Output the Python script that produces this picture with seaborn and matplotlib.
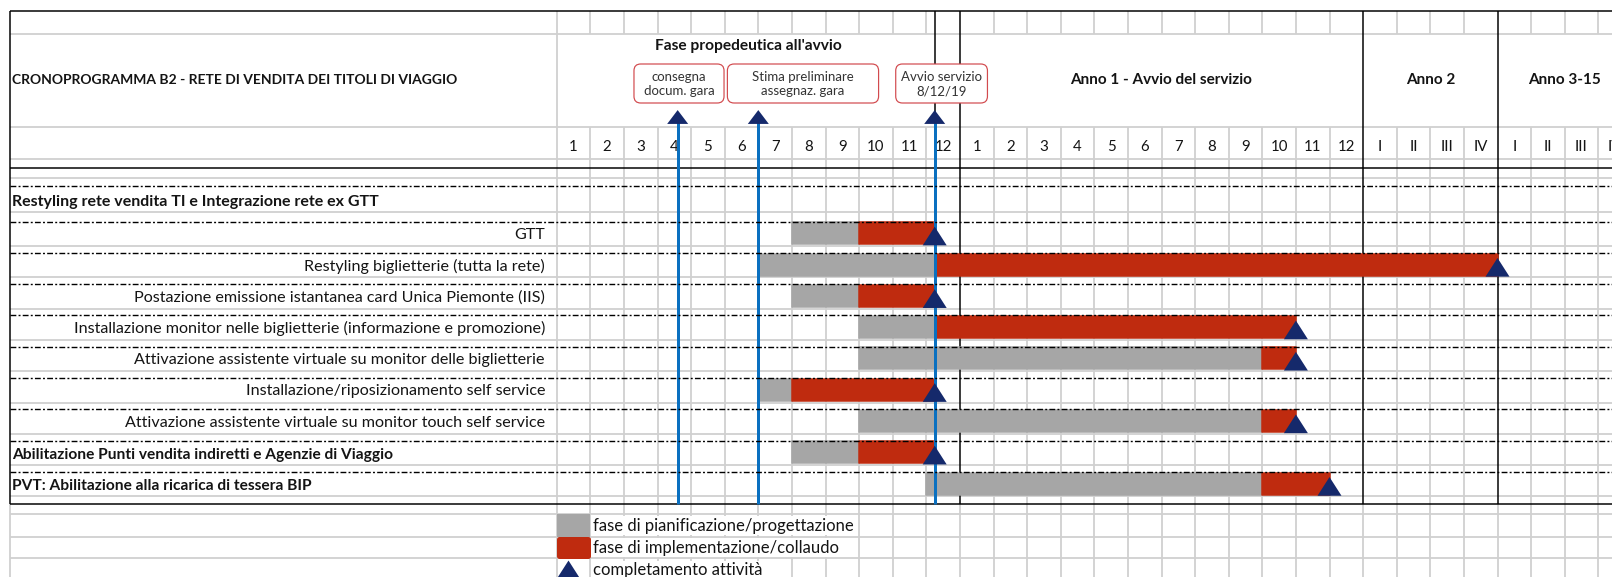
import matplotlib
matplotlib.use("Agg")
import matplotlib.pyplot as plt
from matplotlib.patches import FancyBboxPatch
from matplotlib.path import Path
import seaborn as sns

# ---------------------------------------------------------------- data
title = "CRONOPROGRAMMA B2 - RETE DI VENDITA DEI TITOLI DI VIAGGIO"
section_label = "Restyling rete vendita TI e Integrazione rete ex GTT"

tasks = [
    "GTT",
    "Restyling biglietterie (tutta la rete)",
    "Postazione emissione istantanea card Unica Piemonte (IIS)",
    "Installazione monitor nelle biglietterie (informazione e promozione)",
    "Attivazione assistente virtuale su monitor delle biglietterie",
    "Installazione/riposizionamento self service",
    "Attivazione assistente virtuale su monitor touch self service",
    "Abilitazione Punti vendita indiretti e Agenzie di Viaggio",
    "PVT: Abilitazione alla ricarica di tessera BIP",
]
task_is_heading = [False, False, False, False, False, False, False, True, True]

# timeline in month columns counted from the first column of the preparatory phase
plan_start = [7, 6, 7, 9, 9, 6, 9, 7, 11]
plan_end = [9, 11.25, 9, 11.25, 21, 7, 21, 9, 21]
impl_end = [11.25, 28, 11.25, 22, 22, 11.25, 22, 11.25, 23]

milestone_labels = ["consegna\ndocum. gara", "Stima preliminare\nassegnaz. gara",
                    "Avvio servizio\n8/12/19"]
milestone_month = [3.6, 6.0, 11.25]

period_labels = ["Fase propedeutica all'avvio", "Anno 1 - Avvio del servizio",
                 "Anno 2", "Anno 3-15"]
period_bounds = [0, 12, 24, 28, 32]

column_labels = ([str(m) for m in range(1, 13)] + [str(m) for m in range(1, 13)]
                 + ["I", "II", "III", "IV"] + ["I", "II", "III", "IV"])

legend_labels = ["fase di pianificazione/progettazione",
                 "fase di implementazione/collaudo",
                 "completamento attività"]

# ---------------------------------------------------------------- style
GREY_BAR = "#a6a6a6"
RED_BAR = "#bf2b0f"
NAVY = "#15296b"
BLUE = "#0a70c0"
GRID = "#d0d0d0"
INK = "#141414"
CALLOUT_EDGE = "#d24a4e"

sns.set_theme(style="white")
plt.rcParams["font.family"] = ["Lato", "DejaVu Sans"]
plt.rcParams["lines.scale_dashes"] = False

W, H, DPI = 1612, 577, 100
PT = 72 / DPI  # points per pixel

# x runs in month columns; column 0 starts at pixel X0
X0, COL = 556.7, 33.6


def col(px):
    return (px - X0) / COL


LEFT, RIGHT = col(10), col(W)

# y runs in pixels from the top edge of the sheet
Y_TOP, Y_HDR1, Y_HDR2, Y_HDR3 = 11, 33.5, 126.5, 159
Y_HDR_END, Y_SUB = 167.5, 178
Y_SEC, Y_SEC_GRID = 186, 211.5
Y_ROW0, ROW_PITCH, BAR_H = 221.5, 31.3, 23.5
Y_BOTTOM = 504
Y_LEG = [514, 536.7, 558.3]

row_top = [Y_ROW0 + i * ROW_PITCH for i in range(len(tasks))]
row_mid = [t + BAR_H / 2 for t in row_top]

fig = plt.figure(figsize=(W / DPI, H / DPI), dpi=DPI)
ax = fig.add_axes([0, 0, 1, 1])
ax.axis("off")

# ---------------------------------------------------------------- sheet grid
grid_lw = 1.8 * PT
black_lw = 1.5 * PT
ax.vlines(0, Y_TOP, H, color=GRID, lw=grid_lw, zorder=1)
for k in range(1, 33):
    if k in period_bounds[1:4]:
        ax.vlines(k, Y_TOP, Y_BOTTOM, color="black", lw=black_lw, zorder=1.5)
        ax.vlines(k, Y_BOTTOM, H, color=GRID, lw=grid_lw, zorder=1)
    else:
        ax.vlines(k, Y_TOP, Y_HDR1, color=GRID, lw=grid_lw, zorder=1)
        ax.vlines(k, Y_HDR2, H, color=GRID, lw=grid_lw, zorder=1)

grey_rows = [Y_HDR1, Y_HDR2, Y_HDR3, Y_SUB, Y_SEC_GRID] + [t + 24.5 for t in row_top] + Y_LEG
ax.hlines(grey_rows, LEFT, RIGHT, color=GRID, lw=grid_lw, zorder=1)
ax.hlines([Y_TOP, Y_HDR_END, Y_BOTTOM], LEFT, RIGHT, color="black", lw=black_lw, zorder=1.5)
ax.vlines(LEFT, Y_TOP, Y_BOTTOM, color="black", lw=black_lw, zorder=1.5)
ax.vlines(LEFT, Y_BOTTOM, H, color=GRID, lw=grid_lw, zorder=1)
ax.vlines(milestone_month[2], Y_TOP, Y_HDR_END, color="black", lw=black_lw, zorder=1.5)

# dash-dot row separators
ax.hlines([Y_SEC] + row_top, LEFT, RIGHT, color="black", lw=1.4 * PT,
          linestyles=[(0, (4.2, 1.6, 1.4, 1.6))], zorder=5)

# ---------------------------------------------------------------- headers
ax.text(col(12), 80, title, ha="left", va="center", fontsize=10.0,
        fontweight="bold", color=INK)
ax.text(col(748), 46, period_labels[0], ha="center", va="center", fontsize=11.2,
        fontweight="bold", color=INK)
for lab, a, b in zip(period_labels[1:], period_bounds[1:4], period_bounds[2:5]):
    ax.text((a + b) / 2, 80, lab, ha="center", va="center", fontsize=11,
            fontweight="bold", color=INK)
for k, lab in enumerate(column_labels):
    ax.text(k + 0.5, 147, lab, ha="center", va="center", fontsize=10.8, color=INK)

# milestone call-outs
callout_span = [(2.30, 4.98), (5.08, 9.58), (10.09, 12.82)]
for lab, (a, b) in zip(milestone_labels, callout_span):
    box = FancyBboxPatch((a, 64), b - a, 39,
                         boxstyle="round,pad=0,rounding_size=0.2",
                         mutation_aspect=COL, facecolor="white",
                         edgecolor=CALLOUT_EDGE, lw=1.2 * PT, zorder=6)
    ax.add_patch(box)
    ax.text((a + b) / 2, 84, lab, ha="center", va="center", fontsize=9.5,
            color="#333333", linespacing=1.25, zorder=7)

# ---------------------------------------------------------------- task labels
ax.text(col(12), 202, section_label, ha="left", va="center", fontsize=11.5,
        fontweight="bold", color=INK)
for lab, top, heading in zip(tasks, row_top, task_is_heading):
    if heading:
        ax.text(col(12), top + 14.5, lab, ha="left", va="center", fontsize=11.2,
                fontweight="bold", color=INK)
    else:
        ax.text(col(545), top + 13.5, lab, ha="right", va="center", fontsize=11.6,
                color=INK)

# ---------------------------------------------------------------- bars
plan_w = [e - s for s, e in zip(plan_start, plan_end)]
impl_w = [e - s for s, e in zip(plan_end, impl_end)]
ax.barh(row_mid, plan_w, left=plan_start, height=BAR_H - 1.5, color=GREY_BAR,
        edgecolor=GREY_BAR, lw=1.5 * PT, joinstyle="round", zorder=3)
ax.barh(row_mid, impl_w, left=plan_end, height=BAR_H - 1.5, color=RED_BAR,
        edgecolor=RED_BAR, lw=1.5 * PT, joinstyle="round", zorder=3)

# milestone lines from the call-outs down to the last task
ax.vlines(milestone_month, 118, Y_BOTTOM, color=BLUE, lw=3 * PT, zorder=4)

tri = Path([(-1, -0.78), (1, -0.78), (0, 0.78), (-1, -0.78)],
           [Path.MOVETO, Path.LINETO, Path.LINETO, Path.CLOSEPOLY])
tri_small = Path([(-1, -0.66), (1, -0.66), (0, 0.66), (-1, -0.66)],
                 [Path.MOVETO, Path.LINETO, Path.LINETO, Path.CLOSEPOLY])

sns.scatterplot(x=impl_end, y=[t + 14.5 for t in row_top], marker=tri,
                s=(24 * PT) ** 2, color=NAVY, edgecolor="none", linewidth=0,
                ax=ax, zorder=7)
sns.scatterplot(x=milestone_month, y=[117] * len(milestone_month), marker=tri_small,
                s=(21 * PT) ** 2, color=NAVY, edgecolor="none", linewidth=0,
                ax=ax, zorder=7)

# ---------------------------------------------------------------- legend
ax.barh((Y_LEG[0] + Y_LEG[1]) / 2, 1, left=0, height=Y_LEG[1] - Y_LEG[0],
        color=GREY_BAR, lw=0, zorder=3)
ax.barh((Y_LEG[1] + Y_LEG[2]) / 2, 1 - 5 / COL, left=2.5 / COL,
        height=Y_LEG[2] - Y_LEG[1] - 5, color=RED_BAR, edgecolor=RED_BAR,
        lw=5 * PT, joinstyle="round", zorder=3)
sns.scatterplot(x=[col(568.5)], y=[569.5], marker=tri, s=(23 * PT) ** 2,
                color=NAVY, edgecolor="none", linewidth=0, ax=ax, zorder=7)
for lab, y in zip(legend_labels, [525.5, 547.5, 570]):
    ax.text(col(593), y, lab, ha="left", va="center", fontsize=12.0, color=INK,
            bbox=dict(facecolor="white", edgecolor="none", pad=1.0), zorder=6)

ax.set_xlim(col(0), RIGHT)
ax.set_ylim(H, 0)
ax.axis("off")
fig.savefig("out.png", dpi=DPI)
